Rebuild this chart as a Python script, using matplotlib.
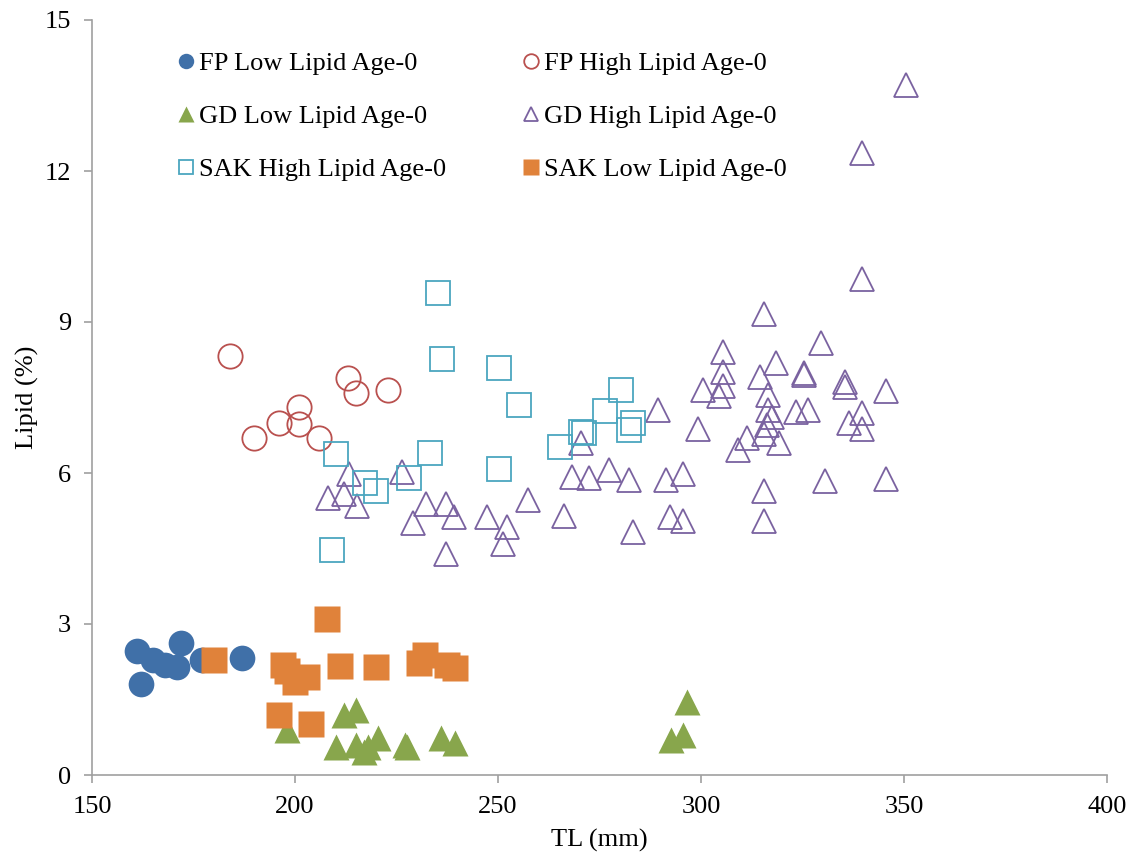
import matplotlib
matplotlib.use("Agg")
import matplotlib.pyplot as plt

plt.rcParams['font.family'] = ['Liberation Serif', 'DejaVu Serif']

# total length (mm) and lipid (%) per group
fp_low_tl = [161, 162, 165, 168, 171, 172, 177, 187]
fp_low_lipid = [2.46, 1.81, 2.28, 2.19, 2.14, 2.62, 2.28, 2.32]

fp_high_tl = [184, 190, 196, 201, 201, 206, 213, 215, 223]
fp_high_lipid = [8.33, 6.69, 7.00, 7.32, 6.97, 6.69, 7.88, 7.58, 7.65]

gd_low_tl = [198, 212, 215, 210, 215, 218, 217, 220.5, 227, 227.5, 236, 239.5,
             296.5, 295.5, 292.5]
gd_low_lipid = [0.90, 1.19, 1.29, 0.56, 0.60, 0.56, 0.46, 0.73, 0.60, 0.55, 0.73, 0.63,
                1.46, 0.79, 0.70]

gd_high_tl = [213.2, 208.2, 212.1, 215.2, 226.3, 232.3, 237.2, 239.2, 229.1, 237.2,
              247.2, 252.3, 251.3, 257.3, 266.3, 270.4, 268.3, 272.4, 277.3, 282.3,
              283.3, 289.5, 291.4, 295.5, 292.4, 295.5, 299.3, 300.4, 305.3, 305.3,
              305.3, 304.5, 309.0, 350.5, 339.6, 339.6, 315.5, 329.5, 318.5, 314.5,
              325.4, 325.4, 335.5, 335.5, 316.4, 345.5, 316.4, 323.4, 326.4, 317.4,
              339.6, 336.5, 339.6, 316.3, 315.5, 311.4, 319.3, 315.5, 330.5, 345.5,
              315.5]
gd_high_lipid = [5.99, 5.51, 5.58, 5.34, 6.01, 5.39, 5.38, 5.13, 5.00, 4.40,
                 5.13, 4.92, 4.59, 5.47, 5.15, 6.59, 5.93, 5.91, 6.06, 5.87,
                 4.83, 7.26, 5.86, 5.98, 5.12, 5.05, 6.87, 7.64, 8.41, 8.01,
                 7.73, 7.53, 6.46, 13.71, 12.35, 9.86, 9.15, 8.59, 8.18, 7.90,
                 7.98, 7.95, 7.81, 7.70, 7.55, 7.62, 7.25, 7.21, 7.25, 7.12,
                 7.20, 6.99, 6.87, 6.95, 6.78, 6.69, 6.59, 5.65, 5.85, 5.89,
                 5.05]

sak_high_tl = [235.3, 236.3, 210, 233.3, 217.2, 220, 228.2, 209, 250.2, 255.2,
               250.2, 265.3, 270.4, 271.2, 276.4, 280.3, 283.3, 282.3]
sak_high_lipid = [9.57, 8.26, 6.38, 6.39, 5.81, 5.65, 5.91, 4.47, 8.08, 7.36,
                  6.08, 6.51, 6.82, 6.79, 7.23, 7.65, 6.99, 6.85]

sak_low_tl = [180, 208, 197, 198, 203, 200, 196, 204, 211, 220, 230.5, 232, 237.5, 239.5]
sak_low_lipid = [2.28, 3.09, 2.19, 2.07, 1.95, 1.85, 1.19, 1.01, 2.17, 2.14, 2.22, 2.38,
                 2.19, 2.12]

fig = plt.figure(figsize=(11.33, 8.57), dpi=100)
ax = fig.add_axes([92 / 1133, 82 / 857, 1015 / 1133, 755 / 857])

ms_fill = 18.5
ms_open = 17.5
ew = 1.3

h_fp_low, = ax.plot(fp_low_tl, fp_low_lipid, 'o', ls='none', ms=ms_fill,
                    color='#4070a8', mec='none', label='FP Low Lipid Age-0')
h_fp_high, = ax.plot(fp_high_tl, fp_high_lipid, 'o', ls='none', ms=ms_open,
                     mfc='none', mec='#b9504e', mew=ew, label='FP High Lipid Age-0')
h_gd_low, = ax.plot(gd_low_tl, gd_low_lipid, '^', ls='none', ms=ms_fill,
                    color='#88a64c', mec='none', label='GD Low Lipid Age-0')
h_gd_high, = ax.plot(gd_high_tl, gd_high_lipid, '^', ls='none', ms=ms_open,
                     mfc='none', mec='#7a62a0', mew=ew, label='GD High Lipid Age-0')
h_sak_high, = ax.plot(sak_high_tl, sak_high_lipid, 's', ls='none', ms=ms_open,
                      mfc='none', mec='#4ba6bf', mew=ew, label='SAK High Lipid Age-0')
h_sak_low, = ax.plot(sak_low_tl, sak_low_lipid, 's', ls='none', ms=ms_fill,
                     color='#e0823a', mec='none', label='SAK Low Lipid Age-0')

ax.set_xlim(150, 400)
ax.set_ylim(0, 15)
ax.set_xticks([150, 200, 250, 300, 350, 400])
ax.set_yticks([0, 3, 6, 9, 12, 15])

axis_grey = '#a0a0a0'
for side in ['top', 'right']:
    ax.spines[side].set_visible(False)
for side in ['left', 'bottom']:
    ax.spines[side].set_color(axis_grey)
    ax.spines[side].set_linewidth(1.2)
ax.tick_params(direction='out', length=6, width=1.2, color=axis_grey,
               labelsize=19, pad=9)

ax.set_xlabel('TL (mm)', fontsize=19, labelpad=8)
ax.set_ylabel('Lipid (%)', fontsize=19, labelpad=4)

# two columns, filled column by column
handles = [h_fp_low, h_gd_low, h_sak_high, h_fp_high, h_gd_high, h_sak_low]
ax.legend(handles=handles, labels=[h.get_label() for h in handles],
          ncol=2, loc='upper left', bbox_to_anchor=(0.085, 0.958),
          frameon=False, fontsize=19, markerscale=0.6,
          handlelength=0.6, handletextpad=0.2, columnspacing=2.9,
          labelspacing=1.12, borderpad=0, borderaxespad=0)

fig.savefig('out.png', dpi=100)
